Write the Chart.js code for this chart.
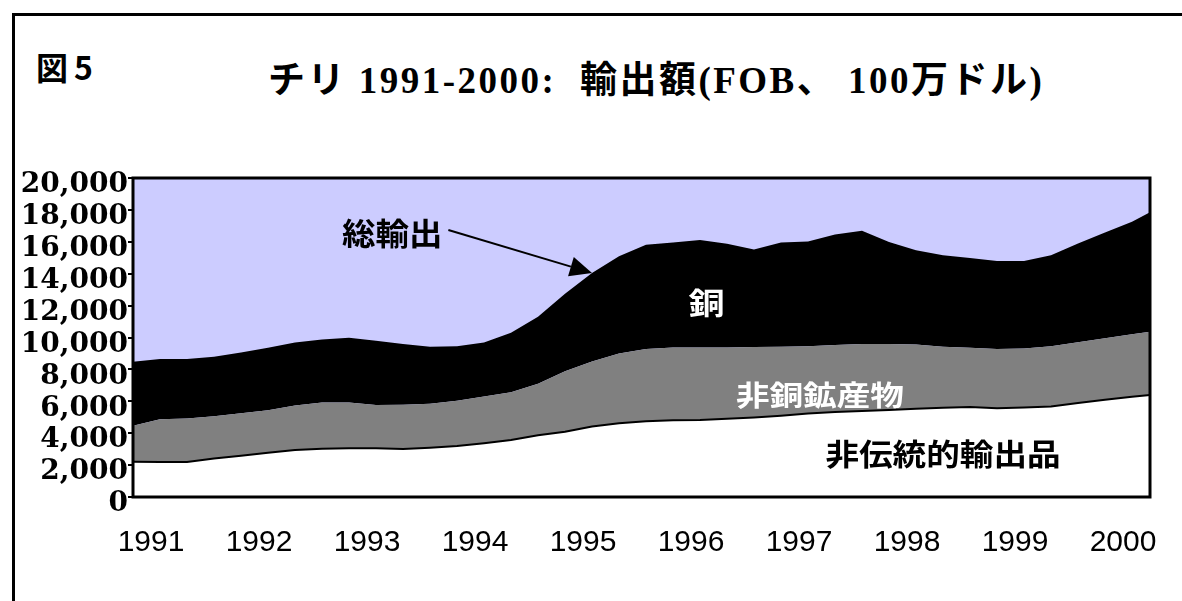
<!DOCTYPE html>
<html lang="ja">
<head>
<meta charset="UTF-8">
<title>チリ 1991-2000: 輸出額</title>
<script src="https://cdn.jsdelivr.net/npm/chart.js"></script>
<style>
    body { margin: 0; background: #fff; }
    #wrap { position: relative; width: 1182px; height: 601px; overflow: hidden; }
    #frame { position: absolute; left: 12px; top: 13px; width: 1300px; height: 700px; border-top: 3px solid #000; border-left: 3px solid #000; }
    #fig { position: absolute; left: 36px; top: 50px; font: bold 32px "Noto Sans CJK JP"; line-height: 32px; letter-spacing: 6px; }
    #title { position: absolute; left: 268px; top: 62px; font: bold 37px "Liberation Serif", "Noto Sans CJK JP"; line-height: 37px; letter-spacing: 2.5px; white-space: pre; }
    canvas { position: absolute; left: 0; top: 0; }
</style>
</head>
<body>
<div id="wrap">
    <div id="frame"></div>
    <div id="fig">図5</div>
    <div id="title">チリ 1991-2000:  輸出額(FOB、 100万ドル)</div>
    <canvas id="chart" width="1182" height="601"></canvas>
</div>

<script>
// Quarterly readings, million US$ (last point is June 2000)
const periods = [
    '1991-01', '1991-04', '1991-07', '1991-10',
    '1992-01', '1992-04', '1992-07', '1992-10',
    '1993-01', '1993-04', '1993-07', '1993-10',
    '1994-01', '1994-04', '1994-07', '1994-10',
    '1995-01', '1995-04', '1995-07', '1995-10',
    '1996-01', '1996-04', '1996-07', '1996-10',
    '1997-01', '1997-04', '1997-07', '1997-10',
    '1998-01', '1998-04', '1998-07', '1998-10',
    '1999-01', '1999-04', '1999-07', '1999-10',
    '2000-01', '2000-04', '2000-06'
];

// 非伝統的輸出品
const nonTraditional = [2210, 2200, 2200, 2420, 2580, 2770, 2950, 3030, 3050, 3050, 3010, 3090, 3200,
    3370, 3570, 3870, 4090, 4420, 4620, 4750, 4810, 4830, 4910, 4990, 5100, 5230, 5330, 5390,
    5450, 5530, 5600, 5650, 5570, 5610, 5680, 5900, 6100, 6290, 6390];

// 非銅鉱産物
const otherMining = [2260, 2670, 2720, 2640, 2670, 2670, 2790, 2890, 2870, 2720, 2770, 2760, 2840,
    2930, 2990, 3230, 3800, 4070, 4370, 4530, 4570, 4550, 4470, 4410, 4320, 4220, 4200, 4200,
    4140, 4030, 3820, 3700, 3710, 3700, 3770, 3810, 3860, 3910, 3970];

// 銅
const copper = [4010, 3780, 3730, 3740, 3810, 3910, 3940, 3960, 4070, 4030, 3820, 3570, 3410,
    3380, 3740, 4200, 4860, 5560, 6110, 6540, 6570, 6730, 6500, 6120, 6530, 6570, 6920, 7110,
    6390, 5910, 5730, 5630, 5520, 5490, 5700, 6190, 6620, 7060, 7490];

const yearLabels = ['1991', '1992', '1993', '1994', '1995', '1996', '1997', '1998', '1999', '2000'];
const yTicks = [0, 2000, 4000, 6000, 8000, 10000, 12000, 14000, 16000, 18000, 20000];

// text inside the plot, anchored in data units
const notes = [
    { text: '総輸出', x: 1993.4, y: 16520, color: '#000', size: 31, stretch: 1.08 },
    { text: '銅', x: 1996.31, y: 12190, color: '#fff', size: 30, stretch: 1.2 },
    { text: '非銅鉱産物', x: 1997.36, y: 6395, color: '#fff', size: 28, stretch: 1.2 },
    { text: '非伝統的輸出品', x: 1998.5, y: 2727, color: '#000', size: 30, stretch: 1.12 }
];
const arrowFrom = { x: 1993.92, y: 16740 };
const arrowTo = '1995-04';

// 'YYYY-MM' -> decimal year
function toYear(p) {
    const [y, m] = p.split('-').map(Number);
    return y + (m - 1) / 12;
}
const xs = periods.map(toYear);
const series = arr => arr.map((v, i) => ({ x: xs[i], y: v }));
const total = periods.map((p, i) => nonTraditional[i] + otherMining[i] + copper[i]);

const plotBackground = {
    id: 'plotBackground',
    beforeDraw(chart) {
        const { ctx, chartArea: a } = chart;
        ctx.save();
        ctx.fillStyle = '#ccccff';
        ctx.fillRect(a.left, a.top, a.width, a.height);
        ctx.restore();
    }
};

const notesPlugin = {
    id: 'notes',
    afterDatasetsDraw(chart) {
        const { ctx, chartArea: a, scales: { x, y } } = chart;
        ctx.save();

        notes.forEach(n => {
            ctx.save();
            ctx.translate(x.getPixelForValue(n.x), y.getPixelForValue(n.y));
            ctx.scale(n.stretch, 1);
            ctx.font = `bold ${n.size}px "Noto Sans CJK JP"`;
            ctx.fillStyle = n.color;
            ctx.textAlign = 'center';
            ctx.textBaseline = 'middle';
            ctx.fillText(n.text, 0, 0);
            ctx.restore();
        });

        // arrow from 総輸出 to the total line
        const i = periods.indexOf(arrowTo);
        const x0 = x.getPixelForValue(arrowFrom.x), y0 = y.getPixelForValue(arrowFrom.y);
        const x1 = x.getPixelForValue(xs[i]), y1 = y.getPixelForValue(total[i]);
        const ang = Math.atan2(y1 - y0, x1 - x0);
        const len = 22, half = 10;
        const bx = x1 - len * Math.cos(ang), by = y1 - len * Math.sin(ang);
        ctx.strokeStyle = '#000';
        ctx.fillStyle = '#000';
        ctx.lineWidth = 2;
        ctx.beginPath();
        ctx.moveTo(x0, y0);
        ctx.lineTo(bx, by);
        ctx.stroke();
        ctx.beginPath();
        ctx.moveTo(x1, y1);
        ctx.lineTo(bx + half * Math.sin(ang), by - half * Math.cos(ang));
        ctx.lineTo(bx - half * Math.sin(ang), by + half * Math.cos(ang));
        ctx.closePath();
        ctx.fill();

        // plot frame
        ctx.lineWidth = 3;
        ctx.strokeRect(a.left, a.top, a.width, a.height);
        ctx.restore();
    }
};

new Chart(document.getElementById('chart'), {
    type: 'line',
    data: {
        datasets: [
            { label: '非伝統的輸出品', data: series(nonTraditional), fill: 'origin', backgroundColor: '#ffffff', borderColor: '#000000', borderWidth: 2 },
            { label: '非銅鉱産物', data: series(otherMining), fill: '-1', backgroundColor: '#808080', borderColor: '#808080', borderWidth: 0 },
            { label: '銅', data: series(copper), fill: '-1', backgroundColor: '#000000', borderColor: '#000000', borderWidth: 0 }
        ]
    },
    options: {
        responsive: false,
        animation: false,
        devicePixelRatio: 1,
        layout: { padding: { top: 178, right: 32, left: 0, bottom: 0 } },
        elements: { point: { radius: 0 }, line: { tension: 0 } },
        plugins: { legend: { display: false }, tooltip: { enabled: false } },
        scales: {
            x: {
                type: 'linear',
                min: xs[0],
                max: xs[xs.length - 1],
                grid: { display: false },
                border: { display: false },
                afterBuildTicks: s => { s.ticks = yearLabels.map(v => ({ value: Number(v) })); },
                afterFit: s => { s.height = 104; },
                ticks: {
                    callback: v => String(v),
                    autoSkip: false,
                    maxRotation: 0,
                    labelOffset: 18,
                    padding: 20,
                    color: '#000',
                    font: { family: 'Liberation Sans', size: 30 }
                }
            },
            y: {
                stacked: true,
                min: 0,
                max: 20000,
                afterBuildTicks: s => { s.ticks = yTicks.map(v => ({ value: v })); },
                afterFit: s => { s.width = 133; },
                grid: { drawOnChartArea: false, drawTicks: true, tickLength: 5, color: '#000', lineWidth: 2 },
                border: { display: false },
                ticks: {
                    callback: v => v.toLocaleString('en-US'),
                    autoSkip: false,
                    labelOffset: 7,
                    padding: 0,
                    color: '#000',
                    font: { family: 'DejaVu Serif', size: 28, weight: 'bold', lineHeight: 1 }
                }
            }
        }
    },
    plugins: [plotBackground, notesPlugin]
});
</script>
</body>
</html>
